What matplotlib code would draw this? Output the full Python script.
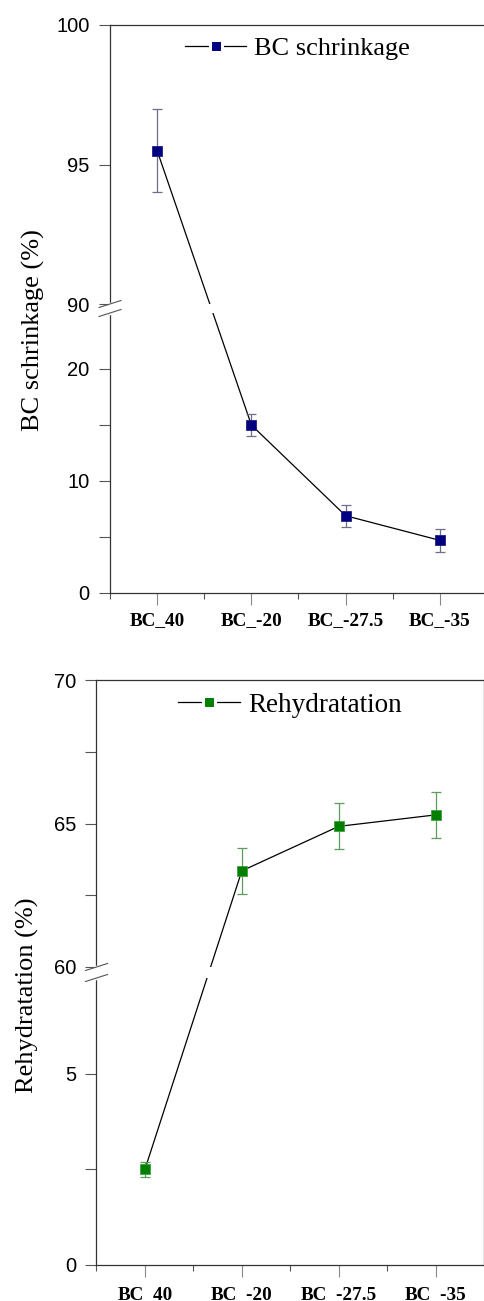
import numpy as np
import matplotlib
matplotlib.use('Agg')
import matplotlib.pyplot as plt
from matplotlib.lines import Line2D

# data
categories = ['BC_40', 'BC_-20', 'BC_-27.5', 'BC_-35']
shrinkage = [95.5, 15.0, 6.9, 4.7]
shrinkage_err = [1.5, 1.0, 1.0, 1.0]
rehydration = [2.5, 63.35, 64.9, 65.3]
rehydration_err = [0.2, 0.8, 0.8, 0.8]

W, H = 485.0, 1301.0
serif = 'Liberation Serif'
sans = 'Liberation Sans'


def broken_scale(vals, pix):
    # piecewise linear y axis (values -> screen pixels), extended at both ends
    vals = list(vals)
    pix = list(pix)
    s0 = (pix[1] - pix[0]) / (vals[1] - vals[0])
    s1 = (pix[-1] - pix[-2]) / (vals[-1] - vals[-2])
    vals = [vals[0] - 1000] + vals + [vals[-1] + 1000]
    pix = [pix[0] - 1000 * s0] + pix + [pix[-1] + 1000 * s1]

    def fwd(v):
        return np.interp(v, vals, pix)

    def inv(p):
        return np.interp(p, pix, vals)
    return fwd, inv


def setup(ax, rect_px, knots, pix, major, minor, xpad):
    fwd, inv = broken_scale(knots, pix)
    ax.set_yscale('function', functions=(fwd, inv))
    ax.set_ylim(knots[0], knots[-1])
    ax.set_xlim(0.5, len(categories) + 0.5)
    x = np.arange(1, len(categories) + 1)
    ax.set_xticks(x)
    ax.set_xticklabels(categories, fontfamily=serif, fontweight='bold', fontsize=13.8)
    ax.set_xticks(x - 0.5, minor=True)
    ax.set_yticks(major)
    ax.set_yticklabels([('%g' % v) for v in major], fontfamily=sans, fontsize=14.5)
    ax.set_yticks(minor, minor=True)
    ax.tick_params(axis='x', which='major', length=8.6, width=0.8, color='#888888', pad=xpad)
    ax.tick_params(axis='x', which='minor', length=4.2, width=0.8, color='#555555')
    ax.tick_params(axis='y', which='both', length=8.2, width=0.8, color='#555555', pad=6.5)
    for sp in ax.spines.values():
        sp.set_color('#333333')
        sp.set_linewidth(0.9)
    # gap of the broken axis
    ax.axhspan(knots[1], knots[2], color='white', zorder=2.2, lw=0)
    tot = pix[-1] - pix[0]
    f_lo = (pix[1] - pix[0]) / tot
    f_hi = (pix[2] - pix[0]) / tot
    dx = 11.0 / rect_px[2]
    dy = 3.5 / rect_px[3]
    ax.plot([0, 0], [f_lo, f_hi], color='white', lw=2.5, transform=ax.transAxes,
            clip_on=False, zorder=3)
    for f in (f_lo, f_hi):
        ax.plot([-dx, dx], [f - dy, f + dy], color='#555555', lw=0.8,
                transform=ax.transAxes, clip_on=False, zorder=4)
    return x


fig = plt.figure(figsize=(W / 100, H / 100), dpi=100)

# ---- top panel: shrinkage
r1 = (110, 25, 377, 568)
ax1 = fig.add_axes([r1[0] / W, 1 - (r1[1] + r1[3]) / H, r1[2] / W, r1[3] / H])
x = setup(ax1, r1, [0, 25, 90, 100], [0, 280, 289, 568],
          [0, 10, 20, 90, 95, 100], [5, 15], 5.2)
navy = '#000080'
ax1.errorbar(x, shrinkage, yerr=shrinkage_err, fmt='none', ecolor='#6e6e88',
             elinewidth=0.9, capsize=3.8, capthick=0.9, zorder=2.5)
ax1.plot(x, shrinkage, color='black', lw=0.9, zorder=2)
ax1.plot(x, shrinkage, ls='none', marker='s', ms=7.2, mfc=navy, mec='#202080',
         mew=0.6, zorder=3)
ax1.set_ylabel('BC schrinkage (%)', fontfamily=serif, fontsize=19)
ax1.yaxis.set_label_coords(-0.172, 0.463)
h1 = Line2D([], [], color='black', lw=0.9, marker='s', ms=8.5, mfc=navy,
            mec='white', mew=2.2)
ax1.legend([h1], ['BC schrinkage'], loc='center left', bbox_to_anchor=(0.2, 0.9595),
           frameon=False, prop={'family': serif, 'size': 19}, handlelength=2.3,
           handletextpad=0.3, borderpad=0, borderaxespad=0)

# ---- bottom panel: rehydratation
r2 = (96.5, 680, 387.5, 585)
ax2 = fig.add_axes([r2[0] / W, 1 - (r2[1] + r2[3]) / H, r2[2] / W, r2[3] / H])
x = setup(ax2, r2, [0, 7.5, 60, 70], [0, 287, 298, 585],
          [0, 5, 60, 65, 70], [2.5, 62.5, 67.5], 6.2)
green = '#008000'
ax2.errorbar(x, rehydration, yerr=rehydration_err, fmt='none', ecolor='#5c9c5c',
             elinewidth=0.9, capsize=3.8, capthick=0.9, zorder=2.5)
ax2.plot(x, rehydration, color='black', lw=0.9, zorder=2)
ax2.plot(x, rehydration, ls='none', marker='s', ms=7.2, mfc=green, mec='#40a040',
         mew=0.6, zorder=3)
ax2.set_ylabel('Rehydratation (%)', fontfamily=serif, fontsize=19)
ax2.yaxis.set_label_coords(-0.148, 0.4615)
h2 = Line2D([], [], color='black', lw=0.9, marker='s', ms=8.5, mfc=green,
            mec='white', mew=2.2)
ax2.legend([h2], ['Rehydratation'], loc='center left', bbox_to_anchor=(0.21, 0.957),
           frameon=False, prop={'family': serif, 'size': 19.5}, handlelength=2.3,
           handletextpad=0.3, borderpad=0, borderaxespad=0)

fig.savefig('out.png', dpi=100)
